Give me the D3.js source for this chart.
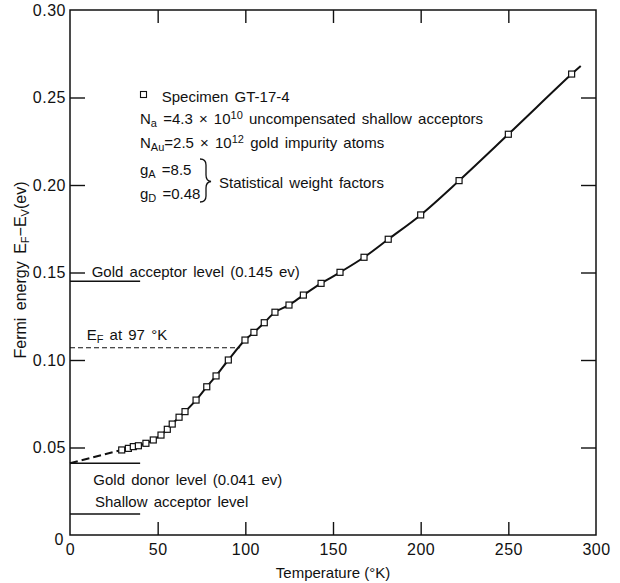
<!DOCTYPE html>
<html>
<head>
<meta charset="utf-8">
<script src="https://cdn.jsdelivr.net/npm/d3@7"></script>
<style>
  body { margin: 0; background: #fff; }
  svg text { font-family: "Liberation Sans", Arial, sans-serif; fill: #111; }
</style>
</head>
<body>
<svg id="chart" width="620" height="583"></svg>
<script>
// Specimen GT-17-4
const temps = [29.5, 33.3, 36.1, 39.0, 43.3, 47.5, 51.9, 55.5, 58.3, 62.2, 65.6, 71.9, 78.0, 83.3, 90.3,
  99.8, 104.9, 110.8, 116.9, 124.9, 133.1, 143.2, 154.0, 167.7, 181.5, 200.0, 221.9, 250.0, 286.1];
const fermi = [0.0486, 0.0495, 0.0505, 0.0510, 0.0524, 0.0543, 0.0571, 0.0604, 0.0634, 0.0673, 0.0705,
  0.0771, 0.0847, 0.0909, 0.1000, 0.1114, 0.1158, 0.1213, 0.1273, 0.1314, 0.1371, 0.1438, 0.1501,
  0.1587, 0.1690, 0.1829, 0.2025, 0.2290, 0.2634];
const curveEnd = [291.3, 0.268];      // where the drawn curve stops
const extrapStart = [0, 0.041];       // dashed extrapolation to 0 K

const levelNames = ['Gold acceptor level (0.145 ev)', 'Gold donor level (0.041 ev)', 'Shallow acceptor level'];
const levelValues = [0.145, 0.041, 0.012];
const levelTempEnd = 40;

const efTemp = 97;
const efValue = 0.107;

const xTicks = [0, 50, 100, 150, 200, 250, 300];
const yTicks = [0, 0.05, 0.10, 0.15, 0.20, 0.25, 0.30];

const margin = { left: 70, right: 24, top: 10, bottom: 48 };
const width = 620, height = 583;

const svg = d3.select('#chart');
const x = d3.scaleLinear().domain([0, 300]).range([margin.left, width - margin.right]);
const y = d3.scaleLinear().domain([0, 0.30]).range([height - margin.bottom, margin.top]);

// axes, ticks pointing inward
const yFmt = d => (d === 0 ? '0' : d3.format('.2f')(d));

const axisB = svg.append('g')
  .attr('transform', 'translate(0,' + y(0) + ')')
  .call(d3.axisBottom(x).tickValues(xTicks).tickSize(-13).tickPadding(9));
const axisT = svg.append('g')
  .attr('transform', 'translate(0,' + y(0.30) + ')')
  .call(d3.axisTop(x).tickValues(xTicks.slice(1, -1)).tickSize(-13).tickFormat(''));
const axisL = svg.append('g')
  .attr('transform', 'translate(' + x(0) + ',0)')
  .call(d3.axisLeft(y).tickValues(yTicks).tickSize(-15).tickPadding(4).tickFormat(yFmt));
const axisR = svg.append('g')
  .attr('transform', 'translate(' + x(300) + ',0)')
  .call(d3.axisRight(y).tickValues(yTicks.slice(1, -1)).tickSize(-15).tickFormat(''));

[axisB, axisT, axisL, axisR].forEach(g => {
  g.select('.domain').remove();
  g.selectAll('line').attr('stroke', '#111').attr('stroke-width', 1.4);
  g.selectAll('text').style('font-size', '16px').attr('fill', '#111').style('letter-spacing', '0.5px');
});
axisB.selectAll('.tick').filter(d => d === 0 || d === 300).select('line').remove();
axisL.selectAll('.tick').filter(d => d === 0 || d === 0.30).select('line').remove();
axisL.selectAll('.tick').filter(d => d === 0).select('text').attr('dy', '0.6em').attr('x', -6);

svg.append('rect')
  .attr('x', x(0)).attr('y', y(0.30))
  .attr('width', x(300) - x(0)).attr('height', y(0) - y(0.30))
  .attr('fill', 'none').attr('stroke', '#111').attr('stroke-width', 1.5);

// level lines
svg.selectAll('.level')
  .data(levelValues)
  .enter().append('line')
  .attr('class', 'level')
  .attr('x1', x(0)).attr('x2', x(levelTempEnd))
  .attr('y1', d => y(d)).attr('y2', d => y(d))
  .attr('stroke', '#111').attr('stroke-width', 1.6);

const levelLabelOffset = [-4.5, 22, -7];
const levelLabelX = [91.7, 93.3, 95];
svg.selectAll('.level-label')
  .data(levelNames)
  .enter().append('text')
  .attr('class', 'level-label')
  .attr('x', (d, i) => levelLabelX[i])
  .attr('y', (d, i) => y(levelValues[i]) + levelLabelOffset[i])
  .style('font-size', '15px').style('word-spacing', '2px')
  .text(d => d);

// Fermi level at 97 K
svg.append('line')
  .attr('x1', x(0)).attr('x2', x(efTemp))
  .attr('y1', y(efValue)).attr('y2', y(efValue))
  .attr('stroke', '#111').attr('stroke-width', 1.1).attr('stroke-dasharray', '5,3');
const efLabel = svg.append('text')
  .attr('x', 86.7).attr('y', y(efValue) - 7.7)
  .style('font-size', '15px').style('word-spacing', '2px');
efLabel.append('tspan').text('E');
efLabel.append('tspan').attr('baseline-shift', '-30%').style('font-size', '11px').text('F');
efLabel.append('tspan').text(' at 97 °K');

// curve + extrapolation
const points = temps.map((t, i) => [t, fermi[i]]);
const line = d3.line().x(d => x(d[0])).y(d => y(d[1])).curve(d3.curveCatmullRom.alpha(0.5));

svg.append('path')
  .datum(points.concat([curveEnd]))
  .attr('d', line)
  .attr('fill', 'none').attr('stroke', '#111').attr('stroke-width', 2);

svg.append('path')
  .datum([extrapStart, points[0]])
  .attr('d', d3.line().x(d => x(d[0])).y(d => y(d[1])))
  .attr('fill', 'none').attr('stroke', '#111').attr('stroke-width', 2)
  .attr('stroke-dasharray', '8,4');

const sq = 6;
svg.selectAll('.pt')
  .data(points)
  .enter().append('rect')
  .attr('class', 'pt')
  .attr('x', d => x(d[0]) - sq / 2).attr('y', d => y(d[1]) - sq / 2)
  .attr('width', sq).attr('height', sq)
  .attr('fill', '#fff').attr('stroke', '#111').attr('stroke-width', 1.2);

// legend / notes
const notes = svg.append('g').style('font-size', '15px').style('word-spacing', '2px');
notes.append('rect')
  .attr('x', 140.5).attr('y', 91.5).attr('width', 6).attr('height', 6)
  .attr('fill', '#fff').attr('stroke', '#111').attr('stroke-width', 1.1);
notes.append('text').attr('x', 161.7).attr('y', 101.7).text('Specimen GT-17-4');

function sub(t, s) { t.append('tspan').attr('baseline-shift', '-30%').style('font-size', '11px').text(s); }
function sup(t, s) { t.append('tspan').attr('baseline-shift', '45%').style('font-size', '11px').text(s); }

const na = notes.append('text').attr('x', 140).attr('y', 124.3);
na.append('tspan').text('N'); sub(na, 'a');
na.append('tspan').text(' =4.3 × 10'); sup(na, '10');
na.append('tspan').text(' uncompensated shallow acceptors');

const nau = notes.append('text').attr('x', 140).attr('y', 148.3);
nau.append('tspan').text('N'); sub(nau, 'Au');
nau.append('tspan').text('=2.5 × 10'); sup(nau, '12');
nau.append('tspan').text(' gold impurity atoms');

const ga = notes.append('text').attr('x', 140).attr('y', 175);
ga.append('tspan').text('g'); sub(ga, 'A'); ga.append('tspan').text(' =8.5');
const gd = notes.append('text').attr('x', 140).attr('y', 199.3);
gd.append('tspan').text('g'); sub(gd, 'D'); gd.append('tspan').text(' =0.48');

notes.append('path')
  .attr('d', 'M200,159 Q206,159 206,165 L206,175 Q206,181 211,181.5 Q206,182 206,188 L206,196 Q206,202 200,202')
  .attr('fill', 'none').attr('stroke', '#111').attr('stroke-width', 1.3);
notes.append('text').attr('x', 219).attr('y', 188.3).text('Statistical weight factors');

// axis titles
svg.append('text')
  .attr('x', (x(0) + x(300)) / 2).attr('y', 578)
  .attr('text-anchor', 'middle')
  .style('font-size', '15px')
  .text('Temperature (°K)');

const yt = svg.append('text')
  .attr('transform', 'translate(26,270) rotate(-90)')
  .attr('text-anchor', 'middle')
  .style('font-size', '16px').style('word-spacing', '3px');
yt.append('tspan').text('Fermi energy  E');
sub(yt, 'F');
yt.append('tspan').text('−E');
sub(yt, 'V');
yt.append('tspan').text('(ev)');
</script>
</body>
</html>
